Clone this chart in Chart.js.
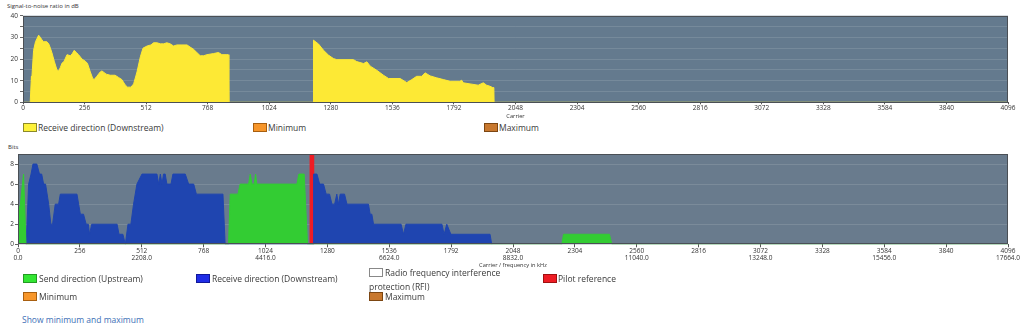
<!DOCTYPE html>
<html>
<head>
<meta charset="utf-8">
<script src="https://cdn.jsdelivr.net/npm/chart.js@4.4.1/dist/chart.umd.min.js"></script>
<style>
  body { margin:0; width:1024px; height:324px; overflow:hidden; background:#fff; position:relative;
         font-family: "Open Sans", "Noto Sans", sans-serif; color:#333; }
  .wrap { position:absolute; left:0; width:1024px; }
  .ttl { position:absolute; font-size:6px; color:#333; white-space:nowrap; }
  .leg { position:absolute; font-size:8.5px; line-height:13px; white-space:nowrap; color:#3a3a3a; }
  .box { position:absolute; width:12px; height:7px; border:1px solid; }
  .lnk { position:absolute; font-size:8.5px; color:#3d6fb6; white-space:nowrap; }
</style>
</head>
<body>

<div class="ttl" style="left:7px; top:2px;">Signal-to-noise ratio in dB</div>
<div class="wrap" style="top:0; height:120px;"><canvas id="snrChart"></canvas></div>

<div class="box" style="left:23px; top:123px; background:#fdf23a; border-color:#8c8a2a;"></div>
<div class="leg" style="left:38px; top:121px;">Receive direction (Downstream)</div>
<div class="box" style="left:253px; top:123px; background:#f7962a; border-color:#a85f10;"></div>
<div class="leg" style="left:268px; top:121px;">Minimum</div>
<div class="box" style="left:484px; top:123px; background:#c8782e; border-color:#7c4612;"></div>
<div class="leg" style="left:499px; top:121px;">Maximum</div>

<div class="ttl" style="left:8px; top:143px;">Bits</div>
<div class="wrap" style="top:140px; height:130px;"><canvas id="bitsChart"></canvas></div>

<div class="box" style="left:23px; top:274px; background:#33e633; border-color:#239a23;"></div>
<div class="leg" style="left:39px; top:272px;">Send direction (Upstream)</div>
<div class="box" style="left:196px; top:274px; background:#1f2de6; border-color:#10189a;"></div>
<div class="leg" style="left:212px; top:272px;">Receive direction (Downstream)</div>
<div class="box" style="left:369px; top:268px; background:#fff; border-color:#888;"></div>
<div class="leg" style="left:385px; top:266px;">Radio frequency interference</div>
<div class="leg" style="left:369px; top:280px;">protection (RFI)</div>
<div class="box" style="left:543px; top:274px; background:#ee1c24; border-color:#a01010;"></div>
<div class="leg" style="left:558px; top:272px;">Pilot reference</div>
<div class="box" style="left:23px; top:292px; background:#f7962a; border-color:#a85f10;"></div>
<div class="leg" style="left:39px; top:290px;">Minimum</div>
<div class="box" style="left:369px; top:292px; background:#c8782e; border-color:#7c4612;"></div>
<div class="leg" style="left:385px; top:290px;">Maximum</div>

<div class="lnk" style="left:22px; top:314px;">Show minimum and maximum</div>

<script>
// SNR per carrier (dB), downstream
const snrCarrier = [0, 30, 35, 36, 44, 52, 65, 72, 78, 85, 99, 107, 114, 120, 130, 141, 148, 155, 162, 171, 183, 197, 205, 213, 222, 231, 245, 259, 268, 280, 290, 296, 307, 321, 328, 346, 363, 383, 397, 411, 425, 435, 449, 460, 474, 488, 499, 516, 532, 543, 557, 571, 585, 598, 612, 626, 640, 661, 682, 695, 709, 723, 737, 751, 765, 792, 813, 827, 848, 853, 856,
  1207, 1208, 1229, 1249, 1270, 1291, 1305, 1374, 1388, 1416, 1430, 1444, 1471, 1499, 1520, 1568, 1596, 1617, 1637, 1658, 1672, 1693, 1720, 1748, 1776, 1817, 1824, 1831, 1859, 1893, 1914, 1928, 1942, 1953, 1958, 1959, 4096];
const snrDb = [0, 0, 12, 10, 24, 28, 31, 30, 29, 28, 28, 27, 25, 23, 19, 15, 14.5, 16, 18, 19, 22, 21.5, 22.5, 24, 23, 22, 20, 19, 18, 14, 11, 10.5, 12, 14, 14.5, 13, 12.5, 12.5, 11.5, 10.5, 8, 7, 7, 8.5, 14, 21, 25, 26, 26.5, 27.5, 27.5, 27, 27, 27.5, 27, 26, 26.5, 26.5, 26.5, 25.5, 24.5, 23, 21.5, 21.5, 22, 22.5, 23, 22, 22, 22, 0,
  0, 28.7, 26.9, 24.1, 21.8, 20.2, 19.7, 19.7, 18.8, 17.9, 18.7, 16.7, 14.8, 12.5, 11, 11, 9.1, 10.5, 12, 12, 13.6, 12.2, 11.3, 10.5, 9.7, 9.7, 10.2, 9, 8.5, 7.9, 9, 7.9, 7.4, 6.8, 6.8, 0, 0];

// bit loading, upstream
const upCarrier = [0, 5, 10, 14, 23, 28, 33, 871, 878, 910, 919, 954, 961, 968, 977, 983, 988, 1154, 1162, 1184, 1198, 2250, 2257, 2447, 2457, 4096];
const upBits    = [2.5, 3.5, 4, 5, 7, 3.5, 0, 0, 5, 5, 6, 6, 7, 6, 6, 7, 6, 6, 7, 7, 0, 0, 1, 1, 0, 0];

// bit loading, downstream
const downCarrier = [34, 39, 44, 54, 62, 78, 89, 98, 106, 114, 127, 136, 143, 154, 168, 175, 244, 258, 271, 282, 291, 296, 305, 410, 418, 434, 444, 455, 467, 478, 492, 513, 575, 582, 589, 596, 602, 609, 616, 633, 641, 692, 706, 727, 738, 848, 857,
  1222, 1223, 1237, 1248, 1264, 1275, 1289, 1299, 1310, 1319, 1326, 1333, 1351, 1361, 1450, 1457, 1464, 1471, 1585, 1595, 1605, 1754, 1763, 1774, 1791, 1953, 1960];
const downBits = [0, 3, 6, 7, 8, 8, 7, 7, 6, 6, 4, 2, 2, 4, 4, 5, 5, 3, 3, 2, 2, 1, 2, 2, 1, 1, 0, 2, 2, 4, 6, 7, 7, 6, 7, 6, 7, 7, 6, 6, 7, 7, 6, 6, 5, 5, 0,
  0, 7, 7, 6, 6, 5, 5, 4, 4, 5, 4, 5, 5, 4, 4, 3, 3, 2, 2, 1, 2, 2, 1, 2, 1, 1, 0];

// pilot tone
const pilotCarrier = [1216];
const pilotBits = [9];

const carrierTicks = 256;
const khzPerCarrier = 4.3125;

const toXY = (xs, ys) => xs.map((x, i) => ({ x: x, y: ys[i] }));

const plotBg = {
  id: 'plotBg',
  beforeDraw(chart, args, opts) {
    const { ctx, chartArea: a } = chart;
    ctx.save();
    ctx.fillStyle = opts.color;
    ctx.fillRect(a.left, a.top, a.right - a.left, a.bottom - a.top);
    ctx.restore();
  },
  afterDraw(chart) {
    const { ctx, chartArea: a } = chart;
    ctx.save();
    ctx.strokeStyle = '#4a4f55';
    ctx.lineWidth = 1;
    ctx.strokeRect(Math.round(a.left) + 0.5, Math.round(a.top) + 0.5, Math.round(a.right - a.left) - 1, Math.round(a.bottom - a.top) - 1);
    ctx.restore();
  }
};

const fam = '"Open Sans", "Noto Sans", sans-serif';
const tickFont = { family: fam, size: 6.5 };

new Chart(document.getElementById('snrChart'), {
  type: 'line',
  data: {
    datasets: [{
      data: toXY(snrCarrier, snrDb),
      fill: 'origin',
      backgroundColor: '#fde935',
      borderColor: '#fde935',
      borderWidth: 1,
      pointRadius: 0,
      tension: 0
    }]
  },
  options: {
    responsive: true,
    maintainAspectRatio: false,
    animation: false,
    layout: { padding: { top: 15.7, right: 16, left: 0, bottom: 0 } },
    plugins: { legend: { display: false }, tooltip: { enabled: false }, plotBg: { color: '#647a8e' } },
    scales: {
      x: {
        type: 'linear', min: 0, max: 4096,
        ticks: { stepSize: carrierTicks, autoSkip: false, maxRotation: 0, padding: 0, color: '#333', font: tickFont, callback: v => String(v) },
        grid: { drawOnChartArea: false, tickLength: 2, color: '#555' },
        border: { display: false },
        title: { display: true, text: 'Carrier', color: '#333', padding: 0, font: { family: fam, size: 5.7 } },
        afterFit(s) { s.height = 17.7; }
      },
      y: {
        min: 0, max: 40,
        ticks: { stepSize: 5, padding: 2, color: '#333', font: tickFont, callback: v => (v % 10 === 0 ? String(v) : '') },
        grid: { color: 'rgba(255,255,255,0.12)', tickLength: 3, tickColor: '#666' },
        border: { display: false },
        afterFit(s) { s.width = 23; }
      }
    }
  },
  plugins: [plotBg]
});

new Chart(document.getElementById('bitsChart'), {
  type: 'line',
  data: {
    datasets: [
      { data: toXY(upCarrier, upBits), fill: 'origin', backgroundColor: '#33cc33', borderColor: '#33cc33', borderWidth: 1, pointRadius: 0, tension: 0 },
      { data: toXY(downCarrier, downBits), fill: 'origin', backgroundColor: '#1f45b0', borderColor: '#1f45b0', borderWidth: 1, pointRadius: 0, tension: 0 },
      { type: 'bar', data: toXY(pilotCarrier, pilotBits), backgroundColor: '#ee1c24', barThickness: 4, borderWidth: 0 }
    ]
  },
  options: {
    responsive: true,
    maintainAspectRatio: false,
    animation: false,
    layout: { padding: { top: 14, right: 16, left: 0, bottom: 0 } },
    plugins: { legend: { display: false }, tooltip: { enabled: false }, plotBg: { color: '#697b8d' } },
    scales: {
      x: {
        type: 'linear', min: 0, max: 4096, offset: false,
        ticks: {
          stepSize: carrierTicks, autoSkip: false, maxRotation: 0, padding: 0, color: '#333',
          font: { family: fam, size: 6.5, lineHeight: 1.12 },
          callback: v => (v % (carrierTicks * 2) === 0 ? [String(v), (v * khzPerCarrier).toFixed(1)] : String(v))
        },
        grid: { drawOnChartArea: false, tickLength: 3, color: '#555', offset: false },
        border: { display: false },
        title: { display: true, text: 'Carrier / frequency in kHz', color: '#333', padding: { top: 0, bottom: 1 }, font: { family: fam, size: 5.7 } },
        afterFit(s) { s.height = 25.7; }
      },
      y: {
        min: 0, max: 9,
        ticks: { stepSize: 1, padding: 1, color: '#333', font: tickFont, callback: v => (v % 2 === 0 ? String(v) : '') },
        grid: { color: 'rgba(255,255,255,0.12)', tickLength: 3, tickColor: '#666' },
        border: { display: false },
        afterFit(s) { s.width = 18; }
      }
    }
  },
  plugins: [plotBg]
});
</script>
</body>
</html>
